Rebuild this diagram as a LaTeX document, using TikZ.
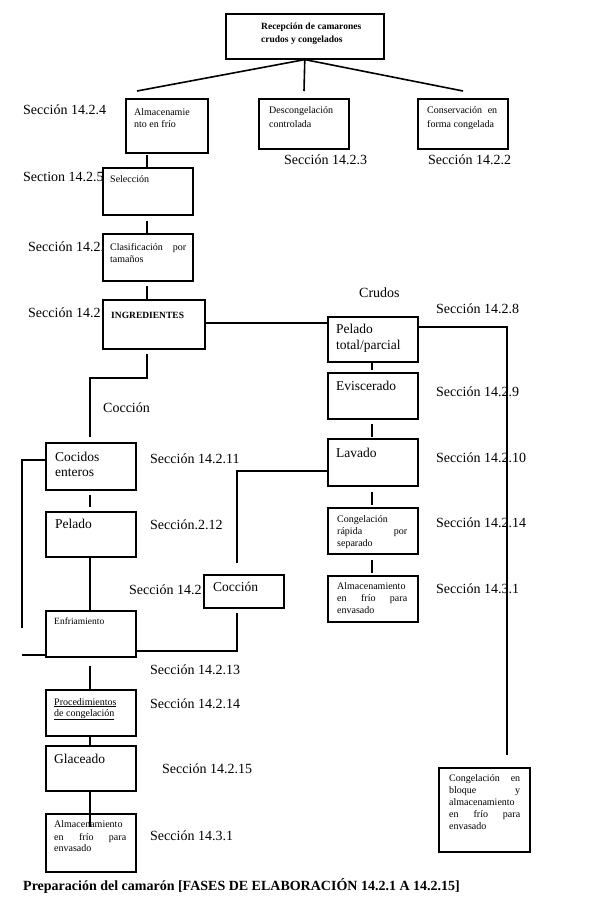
\documentclass[tikz,border=0pt]{standalone}
\usepackage{fontspec}
\setmainfont{Liberation Serif}
\usetikzlibrary{calc}
\tikzset{
  bx/.style={draw, line width=1.6pt, fill=white, anchor=north west, inner sep=0pt},
  ln/.style={line width=1.6pt},
  lbl/.style={anchor=base west, inner sep=0pt, font=\fontsize{14}{16}\selectfont},
  mid/.style={anchor=base west, inner sep=0pt, font=\fontsize{13.5}{15}\selectfont},
  sm/.style={anchor=base west, inner sep=0pt, font=\fontsize{10}{12}\selectfont},
  smb/.style={anchor=base west, inner sep=0pt, font=\bfseries\fontsize{9.5}{12}\selectfont},
  jw/.style={text width=#1, align=left}
}
\begin{document}
\begin{tikzpicture}[x=1pt,y=-1pt]
\useasboundingbox (0,0) rectangle (592,902);

% labels that are partly covered by boxes
\node[lbl] (s145) at (23,181) {Section 14.2.5};
\node[lbl] (s146) at (28,251) {Sección 14.2.};
\node[lbl] (s147) at (28,317) {Sección 14.2};
\node[lbl] (s14x) at (129,594) {Sección 14.2};

% boxes
\node[bx, minimum width=158pt, minimum height=45pt] (rec) at (225,13) {};
\node[bx, minimum width=82pt, minimum height=54pt] (alm) at (125,98) {};
\node[bx, minimum width=90pt, minimum height=50pt] (des) at (258,98) {};
\node[bx, minimum width=90pt, minimum height=50pt] (con) at (417,98) {};
\node[bx, minimum width=90pt, minimum height=47pt] (sel) at (102,167) {};
\node[bx, minimum width=90pt, minimum height=47pt] (cla) at (102,233) {};
\node[bx, minimum width=102pt, minimum height=49pt] (ing) at (102,299) {};
\node[bx, minimum width=90pt, minimum height=45pt] (pel) at (327,316) {};
\node[bx, minimum width=90pt, minimum height=46pt] (evi) at (327,372) {};
\node[bx, minimum width=90pt, minimum height=47pt] (lav) at (327,438) {};
\node[bx, minimum width=90pt, minimum height=46pt] (crs) at (327,507) {};
\node[bx, minimum width=90pt, minimum height=46pt] (afe) at (327,575) {};
\node[bx, minimum width=90pt, minimum height=47pt] (coc) at (45,442) {};
\node[bx, minimum width=90pt, minimum height=45pt] (pld) at (45,511) {};
\node[bx, minimum width=80pt, minimum height=33pt] (cco) at (203,574) {};
\node[bx, minimum width=90pt, minimum height=46pt] (enf) at (45,610) {};
\node[bx, minimum width=90pt, minimum height=46pt] (pro) at (45,689) {};
\node[bx, minimum width=90pt, minimum height=45pt] (gla) at (45,745) {};
\node[bx, minimum width=90pt, minimum height=58pt] (alb) at (45,813) {};
\node[bx, minimum width=91pt, minimum height=84pt] (cbl) at (438,767) {};

% texts in boxes
\node[smb, jw=100pt] (t1) at (261,29) {Recepción\hfill de\hfill camarones};
\node[smb] (t2) at (261,42) {crudos y congelados};
\node[sm] (t3) at (134,115) {Almacenamie};
\node[sm] (t4) at (134,127) {nto en frío};
\node[sm] (t5) at (269,113) {Descongelación};
\node[sm] (t6) at (269,127) {controlada};
\node[sm, jw=70pt] (t7) at (427,113) {Conservación\hfill en};
\node[sm] (t8) at (427,127) {forma congelada};
\node[sm] (t9) at (110,182) {Selección};
\node[sm, jw=76pt] (t10) at (110,250) {Clasificación\hfill por};
\node[sm] (t11) at (110,262) {tamaños};
\node[smb] (t12) at (111,318) {INGREDIENTES};
\node[mid] (t13) at (336,333) {Pelado};
\node[mid] (t14) at (336,349) {total/parcial};
\node[mid] (t15) at (336,390) {Eviscerado};
\node[mid] (t16) at (336,457) {Lavado};
\node[sm] (t17) at (337,522) {Congelación};
\node[sm, jw=70pt] (t18) at (337,534) {rápida\hfill por};
\node[sm] (t19) at (337,546) {separado};
\node[sm] (t20) at (337,589) {Almacenamiento};
\node[sm, jw=70pt] (t21) at (337,601) {en\hfill frío\hfill para};
\node[sm] (t22) at (337,613) {envasado};
\node[mid] (t23) at (55,461) {Cocidos};
\node[mid] (t24) at (55,476) {enteros};
\node[mid] (t25) at (55,528) {Pelado};
\node[mid] (t26) at (213,591) {Cocción};
\node[sm, font=\fontsize{9.5}{11}\selectfont] (t27) at (54,624) {Enfriamiento};
\node[sm] (t28) at (54,705) {\underline{Procedimientos}};
\node[sm] (t29) at (54,716) {\underline{de congelación}};
\node[mid] (t30) at (54,763) {Glaceado};
\node[sm] (t31) at (54,827) {Almacenamiento};
\node[sm, jw=72pt] (t32) at (54,840) {en\hfill frío\hfill para};
\node[sm] (t33) at (54,851) {envasado};
\node[sm, jw=71pt] (t34) at (449,781) {Congelación\hfill en};
\node[sm, jw=71pt] (t35) at (449,793) {bloque\hfill y};
\node[sm] (t36) at (449,805) {almacenamiento};
\node[sm, jw=71pt] (t37) at (449,817) {en\hfill frío\hfill para};
\node[sm] (t38) at (449,829) {envasado};

% free labels
\node[lbl] (s124) at (23,114) {Sección 14.2.4};
\node[lbl] (s123) at (284,164) {Sección 14.2.3};
\node[lbl] (s122) at (428,164) {Sección 14.2.2};
\node[lbl] (cru) at (359,297) {Crudos};
\node[lbl] (s128) at (436,313) {Sección 14.2.8};
\node[lbl] (s129) at (436,396) {Sección 14.2.9};
\node[lbl] (s1210) at (436,462) {Sección 14.2.10};
\node[lbl] (s1214r) at (436,527) {Sección 14.2.14};
\node[lbl] (s131r) at (436,593) {Sección 14.3.1};
\node[lbl] (coccion) at (103,412) {Cocción};
\node[lbl] (s1211) at (150,463) {Sección 14.2.11};
\node[lbl] (s1212) at (150,529) {Sección.2.12};
\node[lbl] (s1213) at (150,674) {Sección 14.2.13};
\node[lbl] (s1214l) at (150,708) {Sección 14.2.14};
\node[lbl] (s1215) at (162,773) {Sección 14.2.15};
\node[lbl] (s131l) at (150,840) {Sección 14.3.1};
\node[anchor=base west, inner sep=0pt, font=\bfseries\fontsize{14}{16}\selectfont] (cap) at (23,890)
  {Preparación del camarón [FASES DE ELABORACIÓN 14.2.1 A 14.2.15]};

% connector end points
\coordinate (brL) at (137,91);
\coordinate (brM) at (304,91);
\coordinate (brR) at (463,91);
\coordinate (a1) at (147,155); \coordinate (a2) at (147,168);
\coordinate (b1) at (147,221); \coordinate (b2) at (147,233);
\coordinate (c1) at (147,286); \coordinate (c2) at (147,299);
\coordinate (d1) at (147,354); \coordinate (d2) at (147,378);
\coordinate (d3) at (90,378);  \coordinate (d4) at (90,437);
\coordinate (e1) at (22,460);  \coordinate (e2) at (22,628);
\coordinate (f1) at (90,495);  \coordinate (f2) at (90,507);
\coordinate (g1) at (90,556);  \coordinate (g2) at (90,610);
\coordinate (h1) at (22,655);
\coordinate (i1) at (237,651); \coordinate (i2) at (237,613);
\coordinate (j1) at (237,471); \coordinate (j2) at (237,563);
\coordinate (k1) at (90,666);  \coordinate (k2) at (90,689);
\coordinate (l1) at (90,735);  \coordinate (l2) at (90,745);
\coordinate (m1) at (90,790);  \coordinate (m2) at (90,827);
\coordinate (n1) at (372,361); \coordinate (n2) at (372,370);
\coordinate (o1) at (372,424); \coordinate (o2) at (372,437);
\coordinate (p1) at (372,492); \coordinate (p2) at (372,505);
\coordinate (q1) at (372,560); \coordinate (q2) at (372,573);
\coordinate (r1) at (507,327); \coordinate (r2) at (507,755);

% connectors
\draw[ln] (rec.south) -- (brL);
\draw[ln] (rec.south) -- (brM);
\draw[ln] (rec.south) -- (brR);
\draw[ln] (a1) -- (a2);
\draw[ln] (b1) -- (b2);
\draw[ln] (c1) -- (c2);
\draw[ln] (ing.east |- 0,323) -- (pel.west |- 0,323);
\draw[ln] (d1) -- (d2) -- (d3) -- (d4);
\draw[ln] (coc.west |- e1) -- (e1) -- (e2);
\draw[ln] (f1) -- (f2);
\draw[ln] (g1) -- (g2);
\draw[ln] (h1) -- (enf.south west |- h1);
\draw[ln] (enf.east |- i1) -- (i1) -- (i2);
\draw[ln] (lav.west |- j1) -- (j1) -- (j2);
\draw[ln] (k1) -- (k2);
\draw[ln] (l1) -- (l2);
\draw[ln] (m1) -- (m2);
\draw[ln] (n1) -- (n2);
\draw[ln] (o1) -- (o2);
\draw[ln] (p1) -- (p2);
\draw[ln] (q1) -- (q2);
\draw[ln] (pel.east |- r1) -- (r1) -- (r2);
\end{tikzpicture}
\end{document}
